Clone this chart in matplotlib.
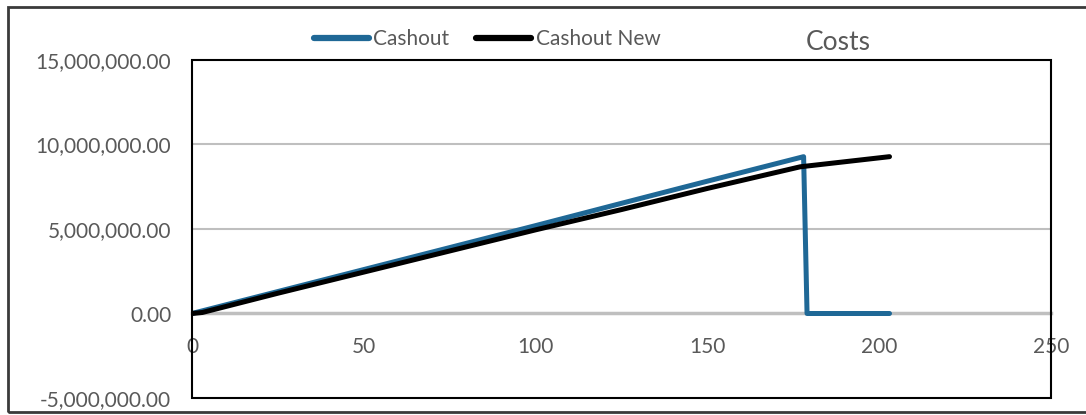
import matplotlib
matplotlib.use("Agg")
import matplotlib.pyplot as plt
from matplotlib.patches import Rectangle
from matplotlib.ticker import FuncFormatter, MultipleLocator

# Kümülatif maliyet serileri (gün → tutar)
cashout_x = [0, 25, 50, 75, 100, 125, 150, 178, 179, 190, 203]
cashout_y = [0, 1300000, 2600000, 3900000, 5200000, 6520000, 7830000, 9280000, 0, 0, 0]

cashout_new_x = [0, 3, 25, 50, 75, 100, 125, 150, 177, 190, 203]
cashout_new_y = [0, 60000, 1200000, 2450000, 3700000, 4950000, 6150000, 7400000, 8680000, 8980000, 9280000]

TEXT_GRAY = "#595959"
plt.rcParams["font.family"] = ["Lato", "DejaVu Sans"]

fig = plt.figure(figsize=(10.86, 4.15), dpi=100)
ax = fig.add_axes([192 / 1086, 1 - 398 / 415, (1051 - 192) / 1086, (398 - 60) / 415])

ax.plot(cashout_x, cashout_y, color="#1f6896", lw=3.6, solid_capstyle="round",
        solid_joinstyle="round", label="Cashout", zorder=3)
ax.plot(cashout_new_x, cashout_new_y, color="black", lw=3.6, solid_capstyle="round",
        solid_joinstyle="round", label="Cashout New", zorder=4)

ax.set_xlim(0, 250)
ax.set_ylim(-5000000, 15000000)
ax.xaxis.set_major_locator(MultipleLocator(50))
ax.yaxis.set_major_locator(MultipleLocator(5000000))
ax.yaxis.set_major_formatter(FuncFormatter(lambda v, _: f"{v:,.2f}"))

# yatay ızgara
for v in (5000000, 10000000):
    ax.axhline(v, color="#bfbfbf", lw=1.5, zorder=1)

# x ekseni sıfır çizgisinde
for side in ("top", "right", "left"):
    ax.spines[side].set_visible(False)
ax.spines["bottom"].set_position(("data", 0))
ax.spines["bottom"].set_color("#bfbfbf")
ax.spines["bottom"].set_linewidth(2.5)
ax.spines["bottom"].set_zorder(1)
ax.add_patch(Rectangle((0, 0), 1, 1, transform=ax.transAxes, fill=False,
                       ec="black", lw=1.5, zorder=5, clip_on=False))

ax.tick_params(axis="both", length=0, labelsize=15, colors=TEXT_GRAY)
ax.tick_params(axis="x", pad=17)
ax.tick_params(axis="y", pad=15)

leg = fig.legend(loc="center", bbox_to_anchor=(487 / 1086, 1 - 39 / 415), ncol=2,
                 frameon=False, fontsize=15, handlelength=2.65, handletextpad=0.2,
                 columnspacing=1.3)
for t in leg.get_texts():
    t.set_color(TEXT_GRAY)
for h in leg.legend_handles:
    h.set_linewidth(4.5)

fig.text(838 / 1086, 1 - 42 / 415, "Costs", ha="center", va="center",
         fontsize=19, color=TEXT_GRAY)

# dış çerçeve (sağ kenar görüntü dışında)
fig.add_artist(Rectangle((8 / 1086, 3 / 415), 1090 / 1086, 405 / 415,
                         transform=fig.transFigure, fill=False, ec="#3a3a3a", lw=2))

fig.savefig("out.png", dpi=100)
